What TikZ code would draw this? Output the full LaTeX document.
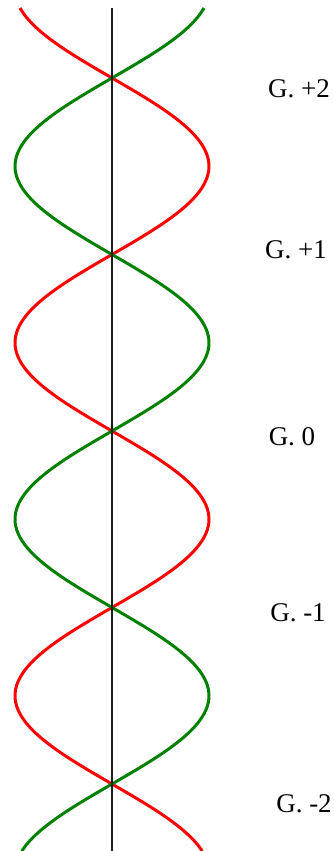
\documentclass[tikz,border=0pt]{standalone}
\usepackage{fontspec}
\setmainfont{Liberation Serif}
\begin{document}
\begin{tikzpicture}[x=1pt,y=-1pt,
  strandred/.style={draw={rgb,255:red,255;green,0;blue,0},line width=3pt},
  strandgreen/.style={draw={rgb,255:red,0;green,128;blue,0},line width=3pt},
  axisline/.style={draw={rgb,255:red,30;green,30;blue,30},line width=1.2pt},
  glabel/.style={inner sep=0pt,anchor=base,font=\fontsize{27}{32}\selectfont}]
\useasboundingbox (0,0) rectangle (333,851);
\draw[strandred] plot[domain=8:851,samples=240,smooth] ({112+97*sin(1.01983*(\x-78))},{\x});
\draw[strandgreen] plot[domain=8:851,samples=240,smooth] ({112-97*sin(1.01983*(\x-78))},{\x});
\coordinate (top) at (112,8);
\coordinate (bot) at (112,851);
\draw[axisline] (top) -- (bot);
\node[glabel] (l2) at (299,97) {G. +2};
\node[glabel] (l1) at (296,258) {G. +1};
\node[glabel] (l0) at (292,445) {G. 0};
\node[glabel] (lm1) at (298,621) {G. -1};
\node[glabel] (lm2) at (304,812) {G. -2};
\end{tikzpicture}
\end{document}
